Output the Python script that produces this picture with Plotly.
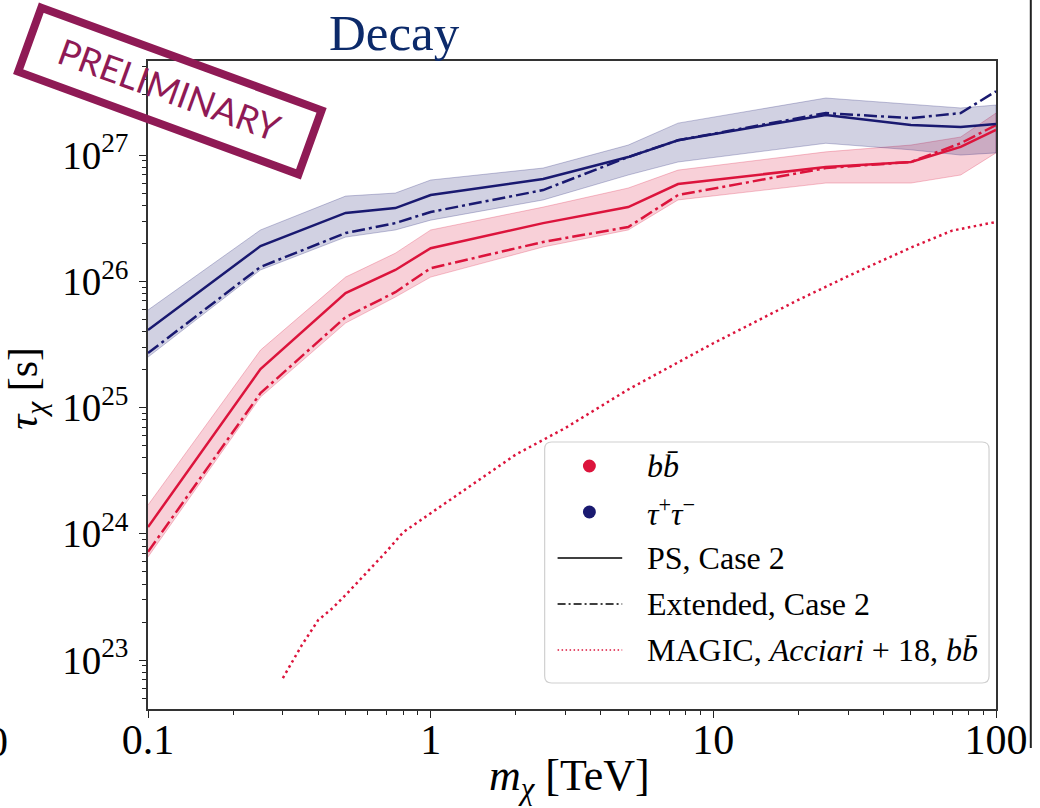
import math
import plotly.graph_objects as go

# ---------------- data ----------------
mass_tev = [0.1, 0.25, 0.5, 0.75, 1, 2.5, 5, 7.5, 25, 50, 75, 100]

bb_ps = [1.13e24, 2.02e25, 8.07e25, 1.23e26, 1.83e26, 2.89e26, 3.87e26, 5.89e26, 8.04e26, 8.81e26, 1.16e27, 1.58e27]
bb_ext = [7.2e23, 1.30e25, 5.2e25, 8.2e25, 1.27e26, 2.05e26, 2.69e26, 4.82e26, 7.89e26, 8.81e26, 1.24e27, 1.73e27]
bb_up = [1.69e24, 2.85e25, 1.08e26, 1.67e26, 2.55e26, 3.87e26, 5.48e26, 7.60e26, 1.06e27, 1.20e27, 1.39e27, 2.15e27]
bb_lo = [6.55e23, 1.21e25, 4.67e25, 7.50e25, 1.08e26, 1.87e26, 2.55e26, 4.41e26, 6.00e26, 6.00e26, 6.95e26, 1.04e27]

tt_ps = [4.11e25, 1.90e26, 3.48e26, 3.80e26, 4.82e26, 6.46e26, 9.64e26, 1.31e27, 2.08e27, 1.73e27, 1.67e27, 1.76e27]
tt_ext = [2.70e25, 1.30e26, 2.41e26, 2.89e26, 3.54e26, 5.28e26, 9.64e26, 1.31e27, 2.15e27, 1.96e27, 2.15e27, 3.2e27]
tt_up = [5.92e25, 2.55e26, 4.73e26, 5.00e26, 6.34e26, 7.89e26, 1.20e27, 1.79e27, 2.83e27, 2.53e27, 2.36e27, 2.49e27]
tt_lo = [2.51e25, 1.23e26, 2.24e26, 2.55e26, 3.05e26, 4.41e26, 6.95e26, 8.81e26, 1.24e27, 1.10e27, 1.00e27, 1.04e27]

magic_mass = [0.3, 0.35, 0.4, 0.45, 0.5, 0.6, 0.7, 0.8, 1, 1.5, 2, 3, 5, 10, 20, 30, 50, 70, 100]
magic_tau = [7.2e22, 1.31e23, 2.07e23, 2.58e23, 3.27e23, 5.07e23, 7.3e23, 1.03e24, 1.45e24, 2.72e24,
             4.24e24, 6.9e24, 1.39e25, 3.23e25, 7.13e25, 1.10e26, 1.85e26, 2.52e26, 2.95e26]

x_tickvals = [0.1, 1, 10, 100]
x_ticktext = ["0.1", "1", "10", "100"]
y_tickvals = [1e23, 1e24, 1e25, 1e26, 1e27]
y_ticktext = ["10<sup>23</sup>", "10<sup>24</sup>", "10<sup>25</sup>", "10<sup>26</sup>", "10<sup>27</sup>"]

legend_labels = ["<i>b</i><i>b\u0304</i>",
                 "<i>\u03c4</i><sup>+</sup><i>\u03c4</i><sup>\u2212</sup>",
                 "PS, Case 2",
                 "Extended, Case 2",
                 "MAGIC, <i>Acciari</i> + 18, <i>b</i><i>b\u0304</i>"]

# ---------------- style ----------------
RED = "#DC143C"
BLUE = "#191970"
RED_FILL = "rgba(220,20,60,0.2)"
BLUE_FILL = "rgba(25,25,112,0.2)"
RED_EDGE = "rgba(220,20,60,0.25)"
BLUE_EDGE = "rgba(25,25,112,0.25)"
STAMP = "#8f1a55"
SERIF = "Liberation Serif, Times New Roman, serif"
DASHDOT = "13px,4px,3px,4px"

FIG_W, FIG_H = 1040, 808
L, R, T, B = 148, 1001, 61, 709
W, H = R - L, B - T


def xp(px):
    return (px - L) / W


def yp(py):
    return (B - py) / H


fig = go.Figure()


def add_band(lo, up, fill, edge):
    fig.add_trace(go.Scatter(
        x=list(mass_tev) + list(mass_tev)[::-1],
        y=list(up) + list(lo)[::-1],
        mode="lines", fill="toself", fillcolor=fill,
        line=dict(color=edge, width=1), hoverinfo="skip", showlegend=False))


add_band(bb_lo, bb_up, RED_FILL, RED_EDGE)
add_band(tt_lo, tt_up, BLUE_FILL, BLUE_EDGE)

for ys, col, dash in [(bb_ps, RED, "solid"), (bb_ext, RED, DASHDOT),
                      (tt_ps, BLUE, "solid"), (tt_ext, BLUE, DASHDOT)]:
    fig.add_trace(go.Scatter(x=mass_tev, y=ys, mode="lines",
                             line=dict(color=col, width=2.5, dash=dash),
                             showlegend=False))

fig.add_trace(go.Scatter(x=magic_mass, y=magic_tau, mode="lines",
                         line=dict(color=RED, width=2.5, dash="2.5px,3.5px"),
                         showlegend=False))

# minor ticks
x_minor = [float(m) * 10.0 ** e for e in (-1, 0, 1) for m in range(2, 10)]
y_minor = [float(m) * 10.0 ** e for e in range(22, 28) for m in range(2, 10)]

axis_common = dict(
    type="log", showgrid=False, zeroline=False,
    showline=True, linecolor="#333", linewidth=1.5, mirror=True,
    ticks="outside", ticklen=7, tickwidth=1.2, tickcolor="#222",
    tickmode="array",
)

fig.update_layout(
    width=FIG_W, height=FIG_H,
    margin=dict(l=L, r=FIG_W - R, t=T, b=FIG_H - B),
    paper_bgcolor="white", plot_bgcolor="white",
    showlegend=False,
    xaxis=dict(axis_common, range=[-1, 2], tickvals=x_tickvals, ticktext=x_ticktext,
               tickfont=dict(family=SERIF, size=42, color="black"),
               minor=dict(tickvals=x_minor, ticks="outside", ticklen=4, tickwidth=1, tickcolor="#222", showgrid=False)),
    yaxis=dict(axis_common, range=[22.612, 27.745], tickvals=y_tickvals, ticktext=y_ticktext,
               tickfont=dict(family=SERIF, size=39, color="black"),
               minor=dict(tickvals=y_minor, ticks="outside", ticklen=4, tickwidth=1, tickcolor="#222", showgrid=False)),
)
try:
    fig.update_xaxes(ticklabelstandoff=-14)
    fig.update_yaxes(ticklabelstandoff=3)
except Exception:
    pass

annotations = []
shapes = []

# title
annotations.append(dict(text="Decay", x=xp(396), y=yp(33), xref="paper", yref="paper",
                        xanchor="center", yanchor="middle", showarrow=False,
                        font=dict(family=SERIF, size=51, color="#0c2a6a")))
# axis titles
annotations.append(dict(text="<i>m</i><sub><i>\u03c7</i></sub> [TeV]", x=xp(572), y=yp(778),
                        xref="paper", yref="paper", xanchor="center", yanchor="middle",
                        showarrow=False, font=dict(family=SERIF, size=44, color="black")))
annotations.append(dict(text="<i>\u03c4</i><sub><i>\u03c7</i></sub> [s]", x=xp(25), y=yp(388),
                        xref="paper", yref="paper", xanchor="center", yanchor="middle",
                        textangle=-90, showarrow=False,
                        font=dict(family=SERIF, size=42, color="black")))
# cut-off neighbour tick label at the left edge
annotations.append(dict(text="0", x=xp(9), y=yp(742), xref="paper", yref="paper",
                        xanchor="right", yanchor="middle", showarrow=False,
                        font=dict(family=SERIF, size=42, color="black")))

# right frame line of the neighbouring panel
shapes.append(dict(type="line", xref="paper", yref="paper", x0=xp(1036), x1=xp(1036),
                   y0=yp(0), y1=yp(748), line=dict(color="#222", width=2)))

# legend box (rounded)
bx0, bx1, by0, by1, rr = 547, 994, 442, 683, 7
p = (f"M {xp(bx0 + rr)},{yp(by0)} L {xp(bx1 - rr)},{yp(by0)} Q {xp(bx1)},{yp(by0)} {xp(bx1)},{yp(by0 + rr)} "
     f"L {xp(bx1)},{yp(by1 - rr)} Q {xp(bx1)},{yp(by1)} {xp(bx1 - rr)},{yp(by1)} "
     f"L {xp(bx0 + rr)},{yp(by1)} Q {xp(bx0)},{yp(by1)} {xp(bx0)},{yp(by1 - rr)} "
     f"L {xp(bx0)},{yp(by0 + rr)} Q {xp(bx0)},{yp(by0)} {xp(bx0 + rr)},{yp(by0)} Z")
shapes.append(dict(type="path", xref="paper", yref="paper", path=p,
                   fillcolor="rgba(255,255,255,0.85)", line=dict(color="#d0d0d0", width=1.2)))

rows = [466, 512, 558, 604, 650]
# markers
for ry, col in [(rows[0], RED), (rows[1], BLUE)]:
    shapes.append(dict(type="circle", xref="paper", yref="paper",
                       x0=xp(592 - 6.5), x1=xp(592 + 6.5), y0=yp(ry + 6.5), y1=yp(ry - 6.5),
                       fillcolor=col, line=dict(color=col, width=0)))
# line samples
shapes.append(dict(type="line", xref="paper", yref="paper", x0=xp(560), x1=xp(625),
                   y0=yp(rows[2]), y1=yp(rows[2]), line=dict(color="black", width=1.6)))
shapes.append(dict(type="line", xref="paper", yref="paper", x0=xp(560), x1=xp(625),
                   y0=yp(rows[3]), y1=yp(rows[3]), line=dict(color="black", width=1.4, dash="8px,3px,2px,3px")))
shapes.append(dict(type="line", xref="paper", yref="paper", x0=xp(560), x1=xp(625),
                   y0=yp(rows[4]), y1=yp(rows[4]), line=dict(color=RED, width=1.4, dash="1.5px,2.5px")))
for ry, lab in zip(rows, legend_labels):
    annotations.append(dict(text=lab, x=xp(648), y=yp(ry), xref="paper", yref="paper",
                            xanchor="left", yanchor="middle", showarrow=False,
                            font=dict(family=SERIF, size=32, color="black")))

# PRELIMINARY stamp
cx, cy, ang, hl, hh = 170, 91, math.radians(20), 150, 34
ux, uy = math.cos(ang), math.sin(ang)
vx, vy = -math.sin(ang), math.cos(ang)
corners = [(cx - ux * hl - vx * hh, cy - uy * hl - vy * hh),
           (cx + ux * hl - vx * hh, cy + uy * hl - vy * hh),
           (cx + ux * hl + vx * hh, cy + uy * hl + vy * hh),
           (cx - ux * hl + vx * hh, cy - uy * hl + vy * hh)]
sp = "M " + " L ".join(f"{xp(a)},{yp(b)}" for a, b in corners) + " Z"
shapes.append(dict(type="path", xref="paper", yref="paper", path=sp,
                   line=dict(color=STAMP, width=8), fillcolor="rgba(0,0,0,0)", layer="above"))
annotations.append(dict(text="PRELIMINARY", x=xp(170), y=yp(89), xref="paper", yref="paper",
                        xanchor="center", yanchor="middle", textangle=20, showarrow=False,
                        font=dict(family="Lato, Open Sans, sans-serif", size=36, color=STAMP)))

fig.update_layout(annotations=annotations, shapes=shapes)
fig.write_html("out.html")
